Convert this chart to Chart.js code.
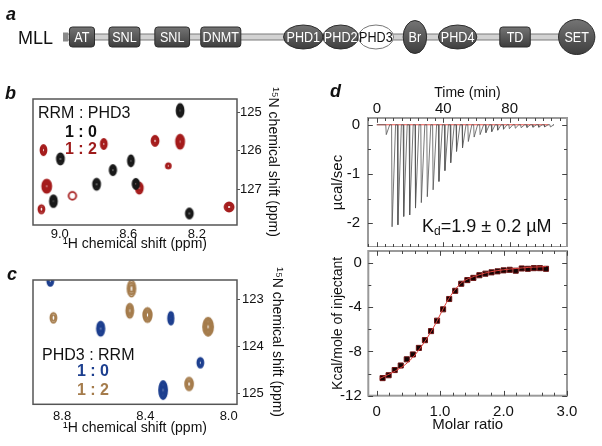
<!DOCTYPE html>
<html>
<head>
<meta charset="utf-8">
<script src="https://cdn.jsdelivr.net/npm/chart.js@4.4.0/dist/chart.umd.min.js"></script>
<style>
body { margin: 0; background: #fff; width: 602px; height: 446px; position: relative; overflow: hidden; font-family: "Liberation Sans", Arial, sans-serif; }
canvas { position: absolute; }
.t { position: absolute; white-space: nowrap; line-height: 1; color: #111; }
.pl { font-weight: bold; font-style: italic; font-size: 18px; }
.lg { font-size: 16px; }
.b { font-weight: bold; }
</style>
</head>
<body>
<canvas id="cA" width="602" height="70" style="left:0;top:2px"></canvas>
<canvas id="cB" width="300" height="180" style="left:0;top:80px"></canvas>
<canvas id="cC" width="300" height="186" style="left:0;top:260px"></canvas>
<canvas id="cD1" width="302" height="167" style="left:300px;top:80px"></canvas>
<canvas id="cD2" width="302" height="200" style="left:300px;top:246px"></canvas>

<div class="t pl" style="left:6px;top:5px">a</div>
<div class="t" style="left:18px;top:29px;font-size:18px">MLL</div>
<div class="t pl" style="left:5px;top:84px">b</div>
<div class="t pl" style="left:7px;top:265px">c</div>
<div class="t pl" style="left:330px;top:82px">d</div>

<div class="t lg" style="left:38px;top:105px">RRM : PHD3</div>
<div class="t lg b" style="left:65px;top:124px">1 : 0</div>
<div class="t lg b" style="left:65px;top:141px;color:#9e1b1b">1 : 2</div>

<div class="t lg" style="left:42px;top:347px">PHD3 : RRM</div>
<div class="t lg b" style="left:77px;top:363px;color:#1d3f8f">1 : 0</div>
<div class="t lg b" style="left:77px;top:382px;color:#a57c4c">1 : 2</div>

<div class="t" style="left:422px;top:217px;font-size:18px">K<span style="font-size:12px;position:relative;top:3px">d</span>=1.9 ± 0.2 µM</div>

<script>
// ---- panel a: domain map of MLL ----
const domainNames = ['AT', 'SNL', 'SNL', 'DNMT', 'PHD1', 'PHD2', 'PHD3', 'Br', 'PHD4', 'TD', 'SET'];
const domainStart = [1.2, 8.6, 17.2, 25.8, 41.3, 48.7, 55.3, 63.7, 70.3, 81.8, 92.8];
const domainEnd = [5.9, 14.4, 23.7, 33.3, 48.7, 55.3, 61.9, 68.1, 77.5, 87.5, 99.6];
const domainShape = ['box', 'box', 'box', 'box', 'oval', 'oval', 'oval', 'oval', 'oval', 'box', 'oval'];
const proteinSpan = [0, 96];

// ---- panel b: RRM spectrum, free (1:0) and with PHD3 (1:2) ----
const bFreeH = [8.298, 8.996, 8.690, 8.585, 8.785, 8.556, 9.037, 8.244];
const bFreeN = [124.95, 126.21, 126.50, 126.26, 126.87, 126.86, 127.31, 127.63];
const bFreeLwH = [0.041, 0.041, 0.038, 0.035, 0.041, 0.038, 0.041, 0.041];
const bFreeLwN = [0.34, 0.29, 0.26, 0.29, 0.29, 0.26, 0.31, 0.26];
const bFreeLev = [5, 4, 4, 4, 4, 4, 5, 4];
const bBoundH = [9.095, 8.743, 8.444, 8.298, 8.367, 9.076, 8.536, 8.926, 9.107, 8.012];
const bBoundN = [125.98, 125.82, 125.74, 125.76, 126.39, 126.92, 126.97, 127.17, 127.52, 127.46];
const bBoundLwH = [0.035, 0.035, 0.041, 0.047, 0.029, 0.053, 0.041, 0.044, 0.035, 0.053];
const bBoundLwN = [0.26, 0.26, 0.26, 0.37, 0.14, 0.34, 0.29, 0.20, 0.21, 0.235];
const bBoundLev = [3, 3, 3, 6, 2, 6, 4, 1, 2, 3];
const bTicksH = [9.0, 8.6, 8.2];
const bTicksN = [125, 126, 127];

// ---- panel c: PHD3 spectrum, free (1:0) and with RRM (1:2) ----
const cFreeH = [8.857, 8.615, 8.278, 8.136, 8.315];
const cFreeN = [122.61, 123.62, 123.40, 124.34, 124.92];
const cFreeLwH = [0.029, 0.036, 0.026, 0.029, 0.038];
const cFreeLwN = [0.21, 0.30, 0.27, 0.21, 0.38];
const cFreeLev = [3, 5, 4, 3, 6];
const cBoundH = [8.467, 8.842, 8.475, 8.390, 8.099, 8.190];
const cBoundN = [122.77, 123.39, 123.24, 123.33, 123.58, 124.79];
const cBoundLwH = [0.038, 0.029, 0.034, 0.041, 0.048, 0.038];
const cBoundLwN = [0.34, 0.21, 0.30, 0.30, 0.38, 0.27];
const cBoundLev = [3, 2, 4, 4, 6, 3];
const cTicksH = [8.8, 8.4, 8.0];
const cTicksN = [123, 124, 125];

// ---- panel d: ITC raw heat and integrated isotherm ----
const injTime = [5.4, 8.9, 12.4, 15.9, 19.5, 23.0, 26.5, 30.1, 33.6, 37.1, 40.7, 44.2, 47.7, 51.3, 54.8,
  58.3, 61.9, 65.4, 68.9, 72.5, 76.0, 79.5, 83.1, 86.6, 90.1, 93.7, 97.2, 100.7, 104.2];
const injPeak = [-0.20, -2.07, -2.03, -1.86, -1.83, -1.69, -1.58, -1.46, -1.32, -1.15, -0.93, -0.77, -0.54, -0.47, -0.34,
  -0.25, -0.20, -0.16, -0.14, -0.11, -0.09, -0.08, -0.07, -0.06, -0.055, -0.05, -0.05, -0.045, -0.045];
const baselineT = [0, 103.5];
const molarRatio = [0.095, 0.19, 0.286, 0.381, 0.476, 0.572, 0.667, 0.762, 0.858, 0.953, 1.048, 1.144, 1.239, 1.334,
  1.43, 1.525, 1.62, 1.715, 1.811, 1.906, 2.001, 2.097, 2.192, 2.287, 2.383, 2.478, 2.573, 2.669];
const heatPerInj = [-10.41, -10.15, -9.68, -9.27, -8.71, -8.27, -7.68, -6.98, -6.16, -5.22, -4.19, -3.26, -2.52, -1.88,
  -1.55, -1.35, -1.11, -0.97, -0.85, -0.76, -0.67, -0.62, -0.70, -0.50, -0.53, -0.47, -0.47, -0.53];
const fitX = [0.05, 0.3, 0.5, 0.7, 0.9, 1.0, 1.1, 1.2, 1.3, 1.4, 1.6, 1.8, 2.0, 2.2, 2.4, 2.67];
const fitY = [-10.45, -9.75, -8.95, -7.6, -5.8, -4.7, -3.6, -2.7, -2.0, -1.55, -1.1, -0.8, -0.62, -0.5, -0.4, -0.33];

Chart.defaults.font.family = '"Liberation Sans", Arial, sans-serif';
Chart.defaults.color = '#111';
Chart.defaults.animation = false;

const framePlugin = {
  id: 'frame',
  defaults: { color: null, width: 1 },
  afterDraw(chart, args, o) {
    if (!o.color) return;
    const { ctx, chartArea: a } = chart;
    ctx.save();
    ctx.strokeStyle = o.color;
    ctx.lineWidth = o.width;
    ctx.strokeRect(a.left, a.top, a.right - a.left, a.bottom - a.top);
    ctx.restore();
  }
};

// ticks pointing into the plot, on all four sides
const innerTicks = {
  id: 'innerTicks',
  defaults: { len: 0, color: '#444' },
  afterDraw(chart, args, o) {
    if (!o.len) return;
    const { ctx, chartArea: a, scales } = chart;
    ctx.save();
    ctx.strokeStyle = o.color;
    ctx.lineWidth = 1;
    ctx.beginPath();
    scales.x.ticks.forEach(t => {
      const p = Math.round(scales.x.getPixelForValue(t.value)) + 0.5;
      const l = t.label !== '' ? o.len * 1.6 : o.len;
      ctx.moveTo(p, a.top); ctx.lineTo(p, a.top + l);
      ctx.moveTo(p, a.bottom); ctx.lineTo(p, a.bottom - l);
    });
    scales.y.ticks.forEach(t => {
      const p = Math.round(scales.y.getPixelForValue(t.value)) + 0.5;
      const l = t.label !== '' ? o.len * 1.6 : o.len;
      ctx.moveTo(a.left, p); ctx.lineTo(a.left + l, p);
      ctx.moveTo(a.right, p); ctx.lineTo(a.right - l, p);
    });
    ctx.stroke();
    ctx.restore();
  }
};
Chart.register(framePlugin, innerTicks);

// fix the box of a scale so the plot area lands where it should
function fixBox(w, h) {
  return s => {
    if (w != null) s.width = w;
    if (h != null) s.height = h;
    s.paddingTop = 0; s.paddingBottom = 0; s.paddingLeft = 0; s.paddingRight = 0;
  };
}

const domainPlugin = {
  id: 'domains',
  afterDatasetsDraw(chart) {
    const { ctx, scales: { x, y } } = chart;
    const yc = y.getPixelForValue(0);
    const x0 = x.getPixelForValue(proteinSpan[0]), x1 = x.getPixelForValue(proteinSpan[1]);
    ctx.save();
    ctx.fillStyle = '#d2d2d2';
    ctx.fillRect(x0, yc - 3, x1 - x0, 6);
    ctx.strokeStyle = '#7a7a7a';
    ctx.lineWidth = 1;
    ctx.beginPath();
    ctx.moveTo(x0, yc - 3); ctx.lineTo(x1, yc - 3);
    ctx.moveTo(x0, yc + 3); ctx.lineTo(x1, yc + 3);
    ctx.stroke();
    ctx.fillStyle = '#8a8a8a';
    ctx.fillRect(x0, yc - 4.5, 5, 9);

    domainNames.forEach((name, i) => {
      const xa = x.getPixelForValue(domainStart[i]), xb = x.getPixelForValue(domainEnd[i]);
      const w = xb - xa, cx = (xa + xb) / 2;
      let h = 20;
      if (domainShape[i] === 'oval') h = name === 'Br' ? 33 : name === 'SET' ? 35 : 24;
      const g = ctx.createLinearGradient(0, yc - h / 2, 0, yc + h / 2);
      g.addColorStop(0, '#747474');
      g.addColorStop(1, '#3e3e3e');
      const light = name === 'PHD3';
      ctx.fillStyle = light ? '#fff' : g;
      ctx.strokeStyle = light ? '#777' : '#2c2c2c';
      ctx.beginPath();
      if (domainShape[i] === 'box') ctx.roundRect(xa, yc - h / 2, w, h, 3);
      else ctx.ellipse(cx, yc, w / 2, h / 2, 0, 0, Math.PI * 2);
      ctx.fill();
      ctx.stroke();
      ctx.save();
      ctx.translate(cx, yc + 1);
      ctx.scale(0.84, 1);
      ctx.font = '15px "Liberation Sans", Arial, sans-serif';
      ctx.fillStyle = light ? '#111' : '#fff';
      ctx.textAlign = 'center';
      ctx.textBaseline = 'middle';
      ctx.fillText(name, 0, 0);
      ctx.restore();
    });
    ctx.restore();
  }
};

new Chart(document.getElementById('cA'), {
  type: 'scatter',
  data: { datasets: [] },
  options: {
    responsive: false, devicePixelRatio: 1,
    layout: { padding: { left: 63, right: 5, top: 0, bottom: 0 } },
    plugins: { legend: { display: false }, tooltip: { enabled: false } },
    scales: {
      x: { display: false, min: 0, max: 100 },
      y: { display: false, min: -35, max: 35 }
    }
  },
  plugins: [domainPlugin]
});

// contour-like peak drawn as nested ellipses, sized from its linewidths in ppm
function peakStyle(ctx, color) {
  const p = ctx.raw;
  const sx = ctx.chart.scales.x, sy = ctx.chart.scales.y;
  const w = Math.abs(sx.getPixelForValue(p.x + p.lwH / 2) - sx.getPixelForValue(p.x - p.lwH / 2));
  const h = Math.abs(sy.getPixelForValue(p.y + p.lwN / 2) - sy.getPixelForValue(p.y - p.lwN / 2));
  const c = document.createElement('canvas');
  c.width = Math.ceil(w) + 4;
  c.height = Math.ceil(h) + 4;
  const g = c.getContext('2d');
  g.strokeStyle = color;
  g.lineWidth = 1.8;
  for (let i = 0; i < p.lev; i++) {
    const f = 1 - i / p.lev * 0.85;
    g.beginPath();
    g.ellipse(c.width / 2, c.height / 2, Math.max(w / 2 * f, 0.7), Math.max(h / 2 * f, 0.7), 0, 0, Math.PI * 2);
    g.stroke();
  }
  return c;
}

function peaks(H, N, lwH, lwN, lev) {
  return H.map((v, i) => ({ x: v, y: N[i], lwH: lwH[i], lwN: lwN[i], lev: lev[i] }));
}

function hsqcChart(id, sets, xr, yr, tH, tN, pad, xFit, yFit, xPad, xTitlePad, yPad, yTitlePad) {
  return new Chart(document.getElementById(id), {
    type: 'scatter',
    data: {
      datasets: sets.map(s => ({
        data: s.data, clip: 0, pointRadius: 6, pointHoverRadius: 6,
        pointStyle: ctx => peakStyle(ctx, s.color)
      }))
    },
    options: {
      responsive: false, devicePixelRatio: 1,
      layout: { padding: pad },
      plugins: { legend: { display: false }, tooltip: { enabled: false }, frame: { color: '#555', width: 1.5 } },
      scales: {
        x: {
          type: 'linear', reverse: true, min: xr[0], max: xr[1],
          afterBuildTicks: s => { s.ticks = tH.map(v => ({ value: v })); },
          afterFit: fixBox(null, xFit),
          ticks: { autoSkip: false, maxRotation: 0, padding: xPad, font: { size: 13 }, color: '#111', callback: v => v.toFixed(1) },
          grid: { display: false, drawTicks: false }, border: { display: false },
          title: { display: true, text: '¹H chemical shift (ppm)', font: { size: 14 }, color: '#111', padding: { top: 0, bottom: xTitlePad } }
        },
        y: {
          type: 'linear', position: 'right', reverse: true, min: yr[0], max: yr[1],
          afterBuildTicks: s => { s.ticks = tN.map(v => ({ value: v })); },
          afterFit: fixBox(yFit, null),
          ticks: { autoSkip: false, padding: yPad, font: { size: 13 }, color: '#111', callback: v => String(v) },
          grid: { display: true, drawOnChartArea: false, drawTicks: true, tickLength: 3, color: '#555' },
          border: { display: false },
          title: { display: true, text: '¹⁵N chemical shift (ppm)', font: { size: 14 }, color: '#111', padding: { top: yTitlePad, bottom: 0 } }
        }
      }
    }
  });
}

hsqcChart('cB', [
  { data: peaks(bFreeH, bFreeN, bFreeLwH, bFreeLwN, bFreeLev), color: '#1a1a1a' },
  { data: peaks(bBoundH, bBoundN, bBoundLwH, bBoundLwN, bBoundLev), color: '#a51c1c' }
], [7.966, 9.156], [124.65, 127.93], bTicksH, bTicksN,
  { left: 33, top: 19, right: 4, bottom: 0 }, 35, 59, 2, 7, 0, 15);

hsqcChart('cC', [
  { data: peaks(cFreeH, cFreeN, cFreeLwH, cFreeLwN, cFreeLev), color: '#1d3f8f' },
  { data: peaks(cBoundH, cBoundN, cBoundLwH, cBoundLwN, cBoundLev), color: '#a57c4c' }
], [7.96, 8.94], [122.59, 125.22], cTicksH, cTicksN,
  { left: 33, top: 20, right: 4, bottom: 0 }, 41.7, 59, 4.5, 9, 2, 11);

// raw thermogram: each injection is a sharp dip that relaxes back to the baseline
const rawTrace = [{ x: 0, y: 0 }];
injTime.forEach((t, i) => {
  rawTrace.push({ x: t, y: 0 }, { x: t + 0.3, y: injPeak[i] }, { x: t + 2.4, y: 0 });
});
rawTrace.push({ x: 106, y: 0 });

new Chart(document.getElementById('cD1'), {
  type: 'scatter',
  data: {
    datasets: [
      { data: rawTrace, showLine: true, borderColor: '#555', borderWidth: 0.8, pointRadius: 0, tension: 0 },
      { data: baselineT.map(t => ({ x: t, y: 0 })), showLine: true, borderColor: '#e8504a', borderWidth: 1, pointRadius: 0 }
    ]
  },
  options: {
    responsive: false, devicePixelRatio: 1,
    layout: { padding: { left: 0, top: 0, right: 35, bottom: 0 } },
    plugins: { legend: { display: false }, tooltip: { enabled: false }, frame: { color: '#9a9a9a', width: 2 }, innerTicks: { len: 3, color: '#444' } },
    scales: {
      x: {
        type: 'linear', position: 'top', min: -5.3, max: 114.5,
        afterFit: fixBox(null, 38),
        ticks: { stepSize: 5, includeBounds: false, autoSkip: false, maxRotation: 0, padding: 0, font: { size: 15 }, color: '#111',
          callback: v => (Math.abs(v % 40) < 1e-6 ? String(Math.round(v)) : '') },
        grid: { display: false, drawTicks: false }, border: { display: false },
        title: { display: true, text: 'Time (min)', font: { size: 14 }, color: '#111', padding: { top: 4.5, bottom: 0 } }
      },
      y: {
        type: 'linear', min: -2.48, max: 0.137,
        afterFit: fixBox(68, null),
        ticks: { stepSize: 0.5, includeBounds: false, autoSkip: false, padding: 8, font: { size: 15 }, color: '#111',
          callback: v => (Math.abs(v - Math.round(v)) < 1e-6 ? String(Math.round(v)) : '') },
        grid: { display: false, drawTicks: false }, border: { display: false },
        title: { display: true, text: 'µcal/sec', font: { size: 15 }, color: '#111', padding: { top: 29, bottom: 0 } }
      }
    }
  }
});

new Chart(document.getElementById('cD2'), {
  type: 'scatter',
  data: {
    datasets: [
      { data: fitX.map((v, i) => ({ x: v, y: fitY[i] })), showLine: true, borderColor: '#e0403a', borderWidth: 1, pointRadius: 0, tension: 0.4 },
      { data: molarRatio.map((v, i) => ({ x: v, y: heatPerInj[i] })), pointStyle: 'rect', pointRadius: 3.6,
        backgroundColor: '#140404', borderColor: '#6e1414', borderWidth: 1 }
    ]
  },
  options: {
    responsive: false, devicePixelRatio: 1,
    layout: { padding: { left: 0, top: 1, right: 35, bottom: 0 } },
    plugins: { legend: { display: false }, tooltip: { enabled: false }, frame: { color: '#9a9a9a', width: 2 }, innerTicks: { len: 3, color: '#444' } },
    scales: {
      x: {
        type: 'linear', min: -0.13, max: 3.0,
        afterFit: fixBox(null, 50.3),
        ticks: { stepSize: 0.2, includeBounds: false, autoSkip: false, maxRotation: 0, padding: 7.5, font: { size: 15 }, color: '#111',
          callback: v => (Math.abs(v - Math.round(v)) < 1e-6 ? (v === 0 ? '0' : v.toFixed(1)) : '') },
        grid: { display: false, drawTicks: false }, border: { display: false },
        title: { display: true, text: 'Molar ratio', font: { size: 15 }, color: '#111', padding: { top: 0, bottom: 12 } }
      },
      y: {
        type: 'linear', min: -12, max: 1.08,
        afterFit: fixBox(68.3, null),
        ticks: { stepSize: 2, includeBounds: false, autoSkip: false, padding: 6.5, font: { size: 15 }, color: '#111',
          callback: v => (Math.abs(v % 4) < 1e-6 ? String(Math.round(v)) : '') },
        grid: { display: false, drawTicks: false }, border: { display: false },
        title: { display: true, text: 'Kcal/mole of injectant', font: { size: 14 }, color: '#111', padding: { top: 30, bottom: 0 } }
      }
    }
  }
});
</script>
</body>
</html>
